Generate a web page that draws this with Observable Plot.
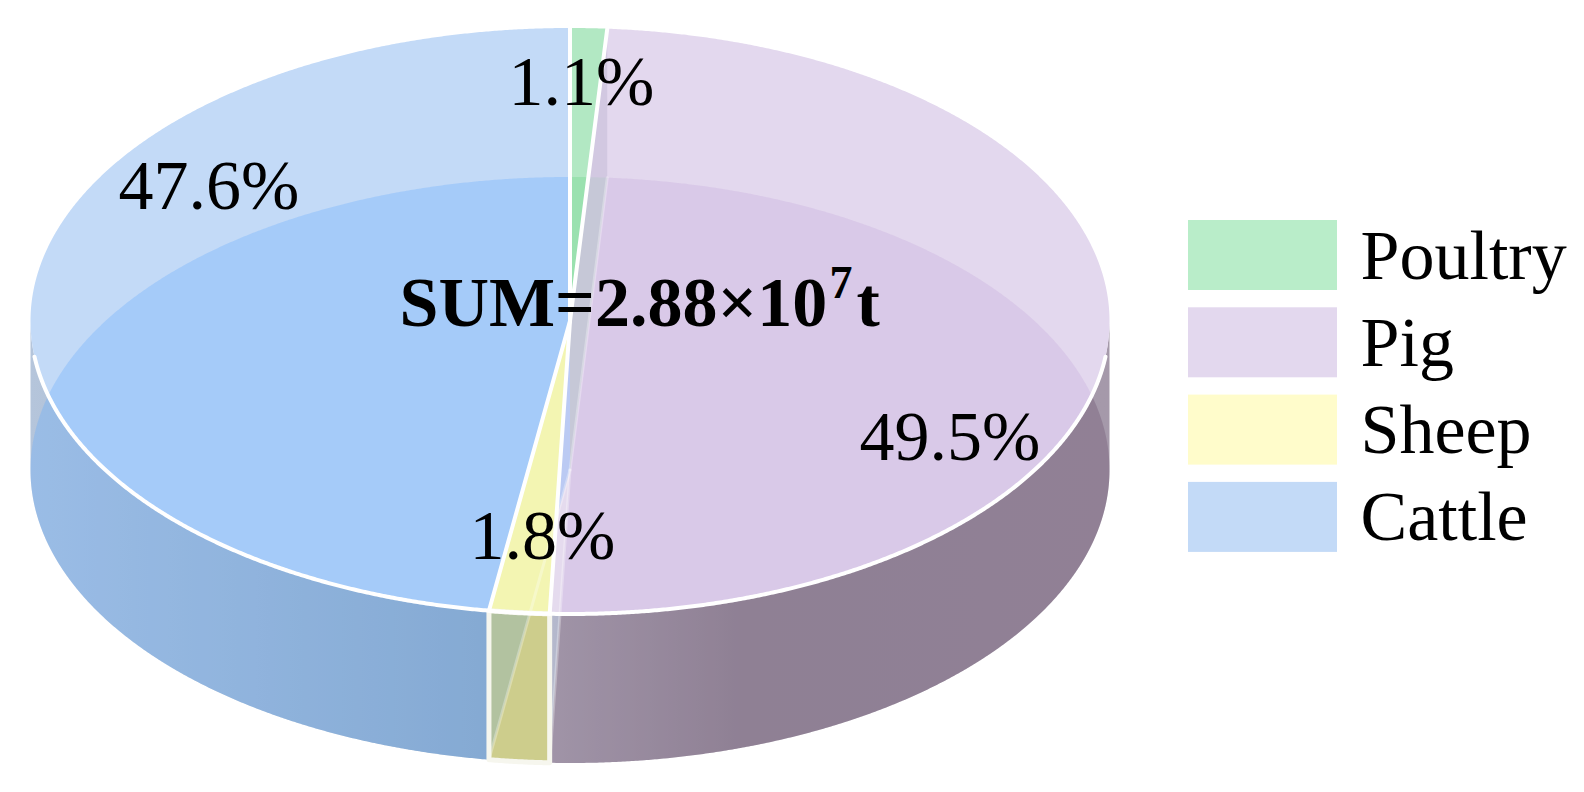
<!DOCTYPE html>
<html>
<head>
<meta charset="utf-8">
<script src="https://cdn.jsdelivr.net/npm/d3@7"></script>
<script src="https://cdn.jsdelivr.net/npm/@observablehq/plot@0.6"></script>
<style>html,body{margin:0;padding:0;background:#fff}svg{display:block}</style>
</head>
<body>
<div id="chart"></div>
<script>
const categories = ["Poultry", "Pig", "Sheep", "Cattle"];
const shares = [1.1, 49.5, 1.8, 47.6];
const percentLabels = ["1.1%", "49.5%", "1.8%", "47.6%"];
const sumParts = ["SUM=2.88×10", "7", "t"];

const legendColors = ["#B9EDC9", "#E3D8EE", "#FFFCCB", "#C3DAF7"];
const topColors = ["#B2E8C3", "#E3D8EE", "#F3F5B2", "#C3DAF7"];
const lensTints = ["rgb(100,210,130)", "rgb(194,166,218)", "rgb(235,225,240)", "rgb(95,168,255)"];
const lensAlpha = [0.3, 0.3, 0.3, 0.3];
const wallTints = ["rgb(100,210,130)", "rgb(98,72,103)", "rgb(150,210,255)", "rgb(94,168,255)"];
const wallAlpha = [0.3, 0.3, 0.15, 0.3];

// layout of the drum
const cx = 569.5, cy = 320.5, rx = 539.5, ry = 293, depth = 149;
const TAU = Math.PI * 2;

const cum = d3.cumsum(shares);
const total = d3.sum(shares);
const slices = categories.map((c, i) => ({
  i, c,
  a0: ((i ? cum[i - 1] : 0) / total) * TAU,
  a1: (cum[i] / total) * TAU
}));
const pt = (a, dz = 0) => ({x: cx + rx * Math.sin(a), y: cy - ry * Math.cos(a) + dz});
const apex = (dz = 0) => ({x: cx, y: cy + dz});
const rimY = (x) => cy + ry * Math.sqrt(Math.max(0, 1 - ((x - cx) / rx) ** 2));

function edge(p, q, n = 60) {
  return d3.range(n + 1).map((k) => ({x: p.x + (q.x - p.x) * k / n, y: p.y + (q.y - p.y) * k / n}));
}
function arc(a0, a1, dz = 0) {
  const n = Math.max(2, Math.ceil(Math.abs(a1 - a0) / 0.004));
  return d3.range(n + 1).map((k) => pt(a0 + (a1 - a0) * k / n, dz));
}
function slicePoly(s, dz = 0) {
  return [...edge(apex(dz), pt(s.a0, dz)), ...arc(s.a0, s.a1, dz), ...edge(pt(s.a1, dz), apex(dz))];
}
function wallPoly(s) {
  const a0 = Math.max(s.a0, Math.PI / 2), a1 = Math.min(s.a1, Math.PI * 1.5);
  if (a1 <= a0) return null;
  return [...arc(a0, a1), ...arc(a1, a0, depth), pt(a0)];
}
const lensPoly = (s) => slicePoly(s, depth).map((p) => ({x: p.x, y: Math.min(p.y, rimY(p.x))}));
const wallOverlayPoly = (s) => slicePoly(s, depth).map((p) => ({x: p.x, y: Math.max(p.y, rimY(p.x))}));
const shape = (pts, o) => Plot.line(pts, {x: "x", y: "y", curve: "linear", strokeLinejoin: "round", strokeOpacity: 1, stroke: "none", ...o});

function gradient(id, stops) {
  return () => {
    const svg = d3.create("svg:g");
    const g = svg.append("defs").append("linearGradient")
      .attr("id", id).attr("gradientUnits", "userSpaceOnUse")
      .attr("x1", cx - rx).attr("x2", cx + rx).attr("y1", 0).attr("y2", 0);
    stops.forEach(([o, c]) => g.append("stop").attr("offset", o).attr("stop-color", c));
    return svg.node();
  };
}
const wallFills = ["#ccc", "url(#wallPig)", "rgb(215,205,120)", "url(#wallCattle)"];

const innerSeams = slices.filter((s) => s.i < categories.length - 1);
const backSeam = innerSeams.filter((s) => Math.cos(s.a1) > 0);
const frontWalls = slices.filter((s) => s.a0 > Math.PI / 2 && s.a1 < Math.PI * 1.5);
const rimInset = 7 * Math.PI / 180;

// legend layout
const legX0 = 1188, legX1 = 1337, legTop = 220, legStep = 87.3, legH = 70, legTextX = 1360, legBase = 58;
const legend = categories.map((c, i) => ({c, i, y1: legTop + i * legStep, y2: legTop + i * legStep + legH, base: legTop + i * legStep + legBase}));
const labelLayout = [
  {x: 508, y: 104}, {x: 859, y: 459}, {x: 469, y: 558}, {x: 118, y: 208}
];
const labelRows = percentLabels.map((t, i) => ({t, ...labelLayout[i]}));
const sumLayout = [{x: 399, y: 325, size: 70}, {x: 829, y: 297, size: 46}, {x: 856, y: 325, size: 70}];
const sumRows = sumParts.map((t, i) => ({t, ...sumLayout[i]}));
const font = {fontFamily: "Liberation Serif", fontSize: 70, fill: "#000", lineAnchor: "bottom", textAnchor: "start"};

const marks = [
  gradient("wallCattle", [[0, "rgb(181,197,219)"], [0.43, "rgb(150,170,192)"]]),
  gradient("wallPig", [[0.48, "rgb(187,181,196)"], [0.66, "rgb(162,152,168)"], [1, "rgb(165,153,170)"]]),
  // walls
  ...slices.filter((s) => wallPoly(s)).map((s) => shape(wallPoly(s), {fill: wallFills[s.i]})),
  // floor of the drum seen through the wall
  ...slices.map((s) => shape(wallOverlayPoly(s), {fill: wallTints[s.i], fillOpacity: wallAlpha[s.i]})),
  // top faces
  ...slices.map((s) => shape(slicePoly(s), {fill: topColors[s.i]})),
  // floor of the drum seen through the top
  ...slices.map((s) => shape(lensPoly(s), {fill: lensTints[s.i], fillOpacity: lensAlpha[s.i]})),
  // sheep top sits clear of the tints
  ...slices.filter((s) => s.c === "Sheep").map((s) => shape(slicePoly(s), {fill: topColors[s.i]})),
  // inner radial face behind the pig slice
  ...backSeam.map((s) => shape([apex(), pt(s.a1), pt(s.a1, depth), apex(depth), apex()], {fill: "rgb(203,194,220)", fillOpacity: 0.7})),
  // floor seams
  ...innerSeams.map((s) => shape([apex(depth), pt(s.a1, depth)], {stroke: "#fff", strokeOpacity: 0.3, strokeWidth: 3})),
  // wall outlines of slices wholly on the front
  ...frontWalls.map((s) => shape(wallPoly(s), {stroke: "rgb(246,246,238)", strokeWidth: 5})),
  // top outlines: radial edges and front rim
  ...slices.map((s) => shape([pt(s.a1), apex()], {stroke: "#fff", strokeWidth: 4})),
  shape(arc(Math.PI / 2 + rimInset, Math.PI * 1.5 - rimInset), {stroke: "#fff", strokeWidth: 4}),
  // labels
  Plot.text(labelRows, {x: "x", y: "y", text: "t", ...font}),
  Plot.text(sumRows, {x: "x", y: "y", text: "t", ...font, fontSize: (d) => d.size, fontWeight: "bold"}),
  // legend
  Plot.rect(legend, {x1: () => legX0, x2: () => legX1, y1: "y1", y2: "y2", fill: (d) => legendColors[d.i]}),
  Plot.text(legend, {x: () => legTextX, y: "base", text: "c", ...font})
];

const chart = Plot.plot({
  width: 1584, height: 792, margin: 0,
  style: {background: "#fff"},
  x: {type: "linear", domain: [0, 1584], range: [0, 1584], axis: null},
  y: {type: "linear", domain: [0, 792], range: [0, 792], axis: null},
  color: {type: "identity"},
  marks
});
document.getElementById("chart").append(chart);
</script>
</body>
</html>
